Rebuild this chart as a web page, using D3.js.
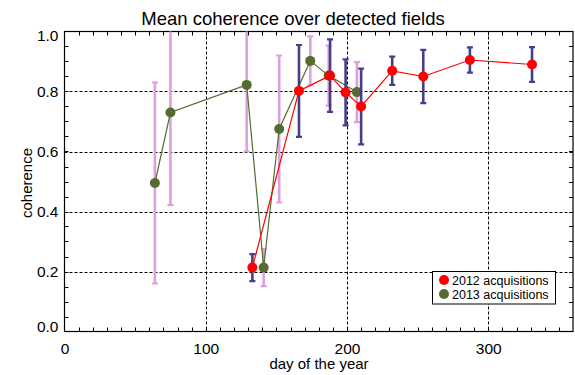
<!DOCTYPE html>
<html><head><meta charset="utf-8">
<script src="https://cdn.jsdelivr.net/npm/d3@7"></script>
<style>body{margin:0;background:#fff}svg{display:block;font-family:"Liberation Sans",Arial,Helvetica,sans-serif}</style>
</head><body><svg id="c" width="575" height="375"></svg>
<script>
const days2012 = [133, 166, 188, 199, 210, 232, 254, 287, 331];
const coh2012  = [0.213, 0.802, 0.853, 0.797, 0.75, 0.869, 0.85, 0.905, 0.89];
const err2012  = [0.045, 0.153, 0.121, 0.11, 0.126, 0.047, 0.089, 0.042, 0.058];
const days2013 = [64, 75, 129, 141, 152, 174, 187, 207];
const coh2013  = [0.495, 0.73, 0.822, 0.213, 0.675, 0.902, 0.853, 0.798];
const err2013  = [0.335, 0.308, 0.222, 0.062, 0.245, 0.082, 0.1, 0.1];
const xTicks = [0, 100, 200, 300];
const yTicks = [0, 0.2, 0.4, 0.6, 0.8, 1.0];
const legendLabels = ["2012 acquisitions", "2013 acquisitions"];
const titleText = "Mean coherence over detected fields";

const svg = d3.select("#c");
const L = 64.5, R = 573, T = 31.5, B = 331.5;
const x = d3.scaleLinear().domain([0, 360]).range([L, R]);
const y = d3.scaleLinear().domain([0, 1]).range([B, T]);

svg.append("defs").append("clipPath").attr("id", "clip")
  .append("rect").attr("x", L).attr("y", T).attr("width", R - L).attr("height", B - T);

// grid
const g = svg.append("g");
g.selectAll(".gx").data(xTicks.filter(d => d > 0)).enter().append("line")
  .attr("x1", d => Math.round(x(d)) + 0.5).attr("x2", d => Math.round(x(d)) + 0.5)
  .attr("y1", T).attr("y2", B).attr("stroke", "#000").attr("stroke-width", 1).attr("stroke-dasharray", "3,2");
g.selectAll(".gy").data(yTicks.filter(d => d > 0 && d < 1)).enter().append("line")
  .attr("y1", d => Math.round(y(d)) + 0.5).attr("y2", d => Math.round(y(d)) + 0.5)
  .attr("x1", L).attr("x2", R).attr("stroke", "#000").attr("stroke-width", 1).attr("stroke-dasharray", "3,2");

// minor ticks (inward) on all sides
const xMinor = d3.range(10, 360, 10);
const yMinor = d3.range(0.05, 1.0, 0.05);
const tl = 4;
const tk = svg.append("g").attr("stroke", "#000").attr("stroke-width", 1);
xMinor.forEach(d => {
  const px = Math.round(x(d)) + 0.5;
  tk.append("line").attr("x1", px).attr("x2", px).attr("y1", B).attr("y2", B - tl);
  tk.append("line").attr("x1", px).attr("x2", px).attr("y1", T).attr("y2", T + tl);
});
yMinor.forEach(d => {
  const py = Math.round(y(d)) + 0.5;
  tk.append("line").attr("y1", py).attr("y2", py).attr("x1", L).attr("x2", L + tl);
  tk.append("line").attr("y1", py).attr("y2", py).attr("x1", R).attr("x2", R - tl);
});

// frame
svg.append("rect").attr("x", L).attr("y", T).attr("width", R - L).attr("height", B - T)
  .attr("fill", "none").attr("stroke", "#000").attr("stroke-width", 1.2);

// axes labels via d3 axes (no lines)
const xa = svg.append("g").attr("transform", `translate(0,${B})`)
  .call(d3.axisBottom(x).tickValues(xTicks).tickFormat(d3.format("d")).tickSize(0).tickPadding(11));
xa.select(".domain").remove();
xa.selectAll("text").attr("font-size", 15.5).attr("fill", "#000").attr("font-family", "Liberation Sans, Arial, sans-serif");

const ya = svg.append("g").attr("transform", `translate(${L},0)`)
  .call(d3.axisLeft(y).tickValues(yTicks).tickFormat(d3.format(".1f")).tickSize(0).tickPadding(6));
ya.select(".domain").remove();
ya.selectAll("text").attr("font-size", 15.5).attr("fill", "#000").attr("font-family", "Liberation Sans, Arial, sans-serif");
ya.selectAll(".tick").filter(d => d === 1).select("text").attr("dy", "0.55em");
ya.selectAll(".tick").filter(d => d === 0).select("text").attr("dy", "0.0em");

// series
function drawSeries(days, coh, err, lineColor, ptColor, barColor) {
  const data = days.map((d, i) => ({ d, v: coh[i], e: err[i] }));
  const gs = svg.append("g").attr("clip-path", "url(#clip)");
  data.forEach(p => {
    const y1 = y(p.v + p.e), y2 = y(p.v - p.e), px = x(p.d);
    gs.append("line").attr("x1", px).attr("x2", px).attr("y1", y1).attr("y2", y2)
      .attr("stroke", barColor).attr("stroke-width", 2.6);
    [y1, y2].forEach(cy => gs.append("line").attr("x1", px - 3).attr("x2", px + 3).attr("y1", cy).attr("y2", cy)
      .attr("stroke", barColor).attr("stroke-width", 2.2));
  });
  gs.append("path").datum(data)
    .attr("d", d3.line().x(p => x(p.d)).y(p => y(p.v)))
    .attr("fill", "none").attr("stroke", lineColor).attr("stroke-width", 1.2);
  gs.selectAll(null).data(data).enter().append("circle")
    .attr("cx", p => x(p.d)).attr("cy", p => y(p.v)).attr("r", 5).attr("fill", ptColor);
}
drawSeries(days2013, coh2013, err2013, "#556b2f", "#556b2f", "#dda0dd");
drawSeries(days2012, coh2012, err2012, "#ff0000", "#ff0000", "#483d8b");

// legend
const lg = svg.append("g");
lg.append("rect").attr("x", 432.5).attr("y", 271.5).attr("width", 123).attr("height", 32.5)
  .attr("fill", "#fff").attr("stroke", "#000").attr("stroke-width", 1);
const legColors = ["#ff0000", "#556b2f"];
legendLabels.forEach((t, i) => {
  const cy = 280 + i * 14;
  lg.append("circle").attr("cx", 444).attr("cy", cy).attr("r", 5).attr("fill", legColors[i]);
  lg.append("text").attr("x", 452).attr("y", cy).attr("dy", "0.36em").attr("font-size", 12.5).attr("fill", "#000").text(t);
});

// title & axis titles
svg.append("text").attr("x", 293).attr("y", 25).attr("text-anchor", "middle").attr("font-size", 18.5).attr("fill", "#000").text(titleText);
svg.append("text").attr("x", 319).attr("y", 369).attr("text-anchor", "middle").attr("font-size", 15).attr("fill", "#000").text("day of the year");
svg.append("text").attr("transform", "translate(32,183) rotate(-90)").attr("text-anchor", "middle").attr("font-size", 15).attr("fill", "#000").text("coherence");
</script></body></html>
